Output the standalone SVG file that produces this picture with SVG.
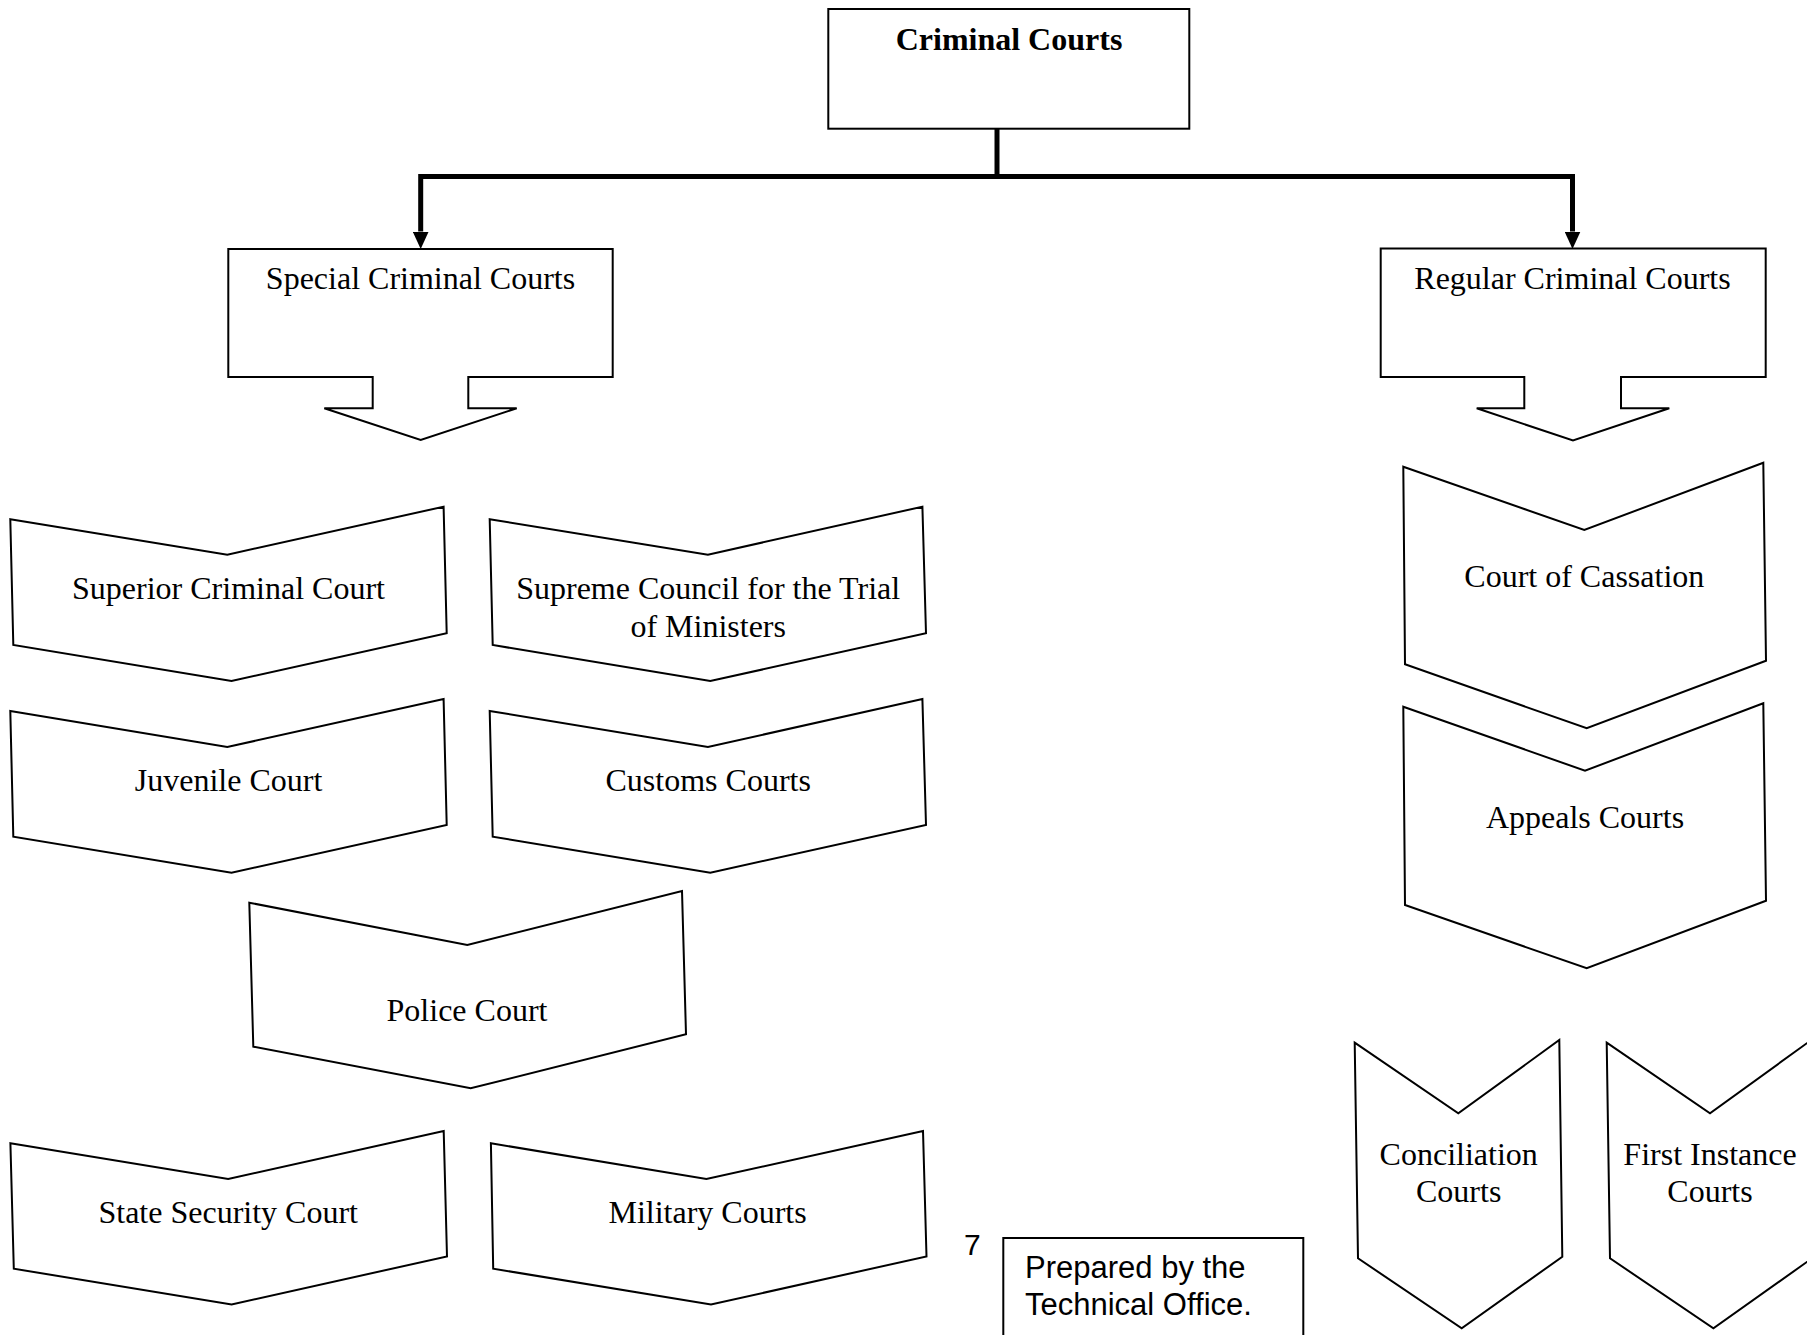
<svg xmlns="http://www.w3.org/2000/svg" width="1807" height="1335" viewBox="0 0 1807 1335">
<style>
  .shape { fill: #ffffff; stroke: #000000; stroke-width: 2; stroke-linejoin: miter; }
  .lbl { font-family: "Liberation Serif", "Times New Roman", serif; font-size: 32px; fill: #000000; text-anchor: middle; }
  .bold { font-weight: bold; }
  .sans { font-family: "Liberation Sans", Arial, sans-serif; fill: #000000; }
  .conn { fill: none; stroke: #000000; stroke-width: 5; stroke-linejoin: miter; }
</style>
<defs>
  <marker id="ah" markerUnits="userSpaceOnUse" markerWidth="18" markerHeight="16" refX="0" refY="8" orient="auto" viewBox="0 0 18 16">
    <path d="M0,0 L17.5,8 L0,16 z" fill="#000000"/>
  </marker>
</defs>
<rect width="1807" height="1335" fill="#ffffff"/>

<g id="connectors">
  <path class="conn" d="M997,128.7 V176.5"/>
  <path class="conn" d="M997,176.5 H420.7 V231.5" marker-end="url(#ah)"/>
  <path class="conn" d="M997,176.5 H1572.5 V231.5" marker-end="url(#ah)"/>
</g>

<g id="criminal-courts">
  <rect class="shape" x="828.3" y="9" width="361" height="119.7"/>
  <text class="lbl bold" x="1009" y="50">Criminal Courts</text>
</g>

<g id="special-criminal-courts">
  <polygon class="shape" points="228.3,249 612.7,249 612.7,377 468.3,377 468.3,408.3 516.7,408.3 420.7,440 324.3,408.3 372.7,408.3 372.7,377 228.3,377"/>
  <text class="lbl" x="420.5" y="289.3">Special Criminal Courts</text>
</g>

<g id="regular-criminal-courts">
  <polygon class="shape" points="1380.7,248.5 1765.7,248.5 1765.7,377 1621,377 1621,408.3 1669.3,408.3 1573,440.5 1476.7,408.3 1524.3,408.3 1524.3,377 1380.7,377"/>
  <text class="lbl" x="1572.5" y="289.3">Regular Criminal Courts</text>
</g>

<g id="superior-criminal-court">
  <polygon class="shape" points="10.3,519.3 227.3,554.7 443.6,506.7 446.7,633.3 231.5,681 13.3,645"/>
  <text class="lbl" x="228.5" y="599.3">Superior Criminal Court</text>
</g>

<g id="supreme-council">
  <polygon class="shape" points="489.7,519.3 707.9,554.7 922.4,506.7 926,633.3 710.3,681 492.7,645"/>
  <text class="lbl" x="708.2" y="599.3">Supreme Council for the Trial</text>
  <text class="lbl" x="708.2" y="636.7">of Ministers</text>
</g>

<g id="juvenile-court">
  <polygon class="shape" points="10.3,711 227.3,747 443.6,699 446.7,825 231.5,872.7 13.3,836.7"/>
  <text class="lbl" x="228.5" y="791">Juvenile Court</text>
</g>

<g id="customs-courts">
  <polygon class="shape" points="489.7,711 707.9,747 922.4,699 926,825 710.3,872.7 492.7,836.7"/>
  <text class="lbl" x="708.2" y="791">Customs Courts</text>
</g>

<g id="police-court">
  <polygon class="shape" points="249.3,902.7 467.3,945 682,891 686,1034.3 470.7,1088.3 253.3,1046.7"/>
  <text class="lbl" x="467" y="1020.7">Police Court</text>
</g>

<g id="state-security-court">
  <polygon class="shape" points="10.4,1143.3 228.2,1179 443.7,1131 447,1256.4 231.6,1304.5 13.8,1268.7"/>
  <text class="lbl" x="228.2" y="1223">State Security Court</text>
</g>

<g id="military-courts">
  <polygon class="shape" points="490.9,1143.3 706.4,1179 923,1131 926.5,1256.4 711,1304.5 493.2,1268.7"/>
  <text class="lbl" x="707.6" y="1223">Military Courts</text>
</g>

<g id="court-of-cassation">
  <polygon class="shape" points="1403.3,466.7 1584.3,530 1763.3,462.7 1766,660.7 1586.7,728.3 1405,664.3"/>
  <text class="lbl" x="1584.3" y="587.3">Court of Cassation</text>
</g>

<g id="appeals-courts">
  <polygon class="shape" points="1403.3,706.7 1585,770.7 1763.3,703.3 1766,900.7 1586.7,968.3 1405,905"/>
  <text class="lbl" x="1585" y="828">Appeals Courts</text>
</g>

<g id="conciliation-courts">
  <polygon class="shape" points="1354.7,1042.7 1458.3,1113.3 1559.3,1040 1562.3,1256.7 1461.7,1328.3 1358,1258.3"/>
  <text class="lbl" x="1458.7" y="1165">Conciliation</text>
  <text class="lbl" x="1458.7" y="1201.7">Courts</text>
</g>

<g id="first-instance-courts">
  <polygon class="shape" points="1606.7,1042.7 1710,1113.3 1811.3,1040 1814.3,1256.7 1713.4,1328.3 1610,1258.3"/>
  <text class="lbl" x="1710" y="1165">First Instance</text>
  <text class="lbl" x="1710" y="1201.7">Courts</text>
</g>

<g id="page-number">
  <text class="sans" x="964" y="1255" font-size="30">7</text>
</g>

<g id="prepared-note">
  <rect class="shape" x="1003.3" y="1238" width="300" height="110"/>
  <text class="sans" x="1025" y="1278" font-size="31">Prepared by the</text>
  <text class="sans" x="1025" y="1315" font-size="31">Technical Office.</text>
</g>
</svg>
